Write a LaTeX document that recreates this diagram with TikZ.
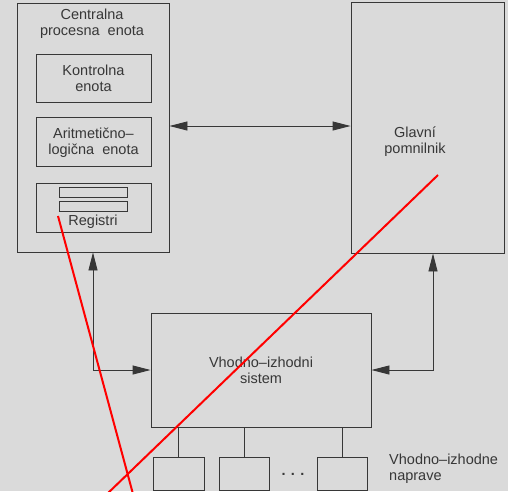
\documentclass[tikz,border=0pt]{standalone}
\usepackage{fontspec}
\setmainfont{Liberation Sans}
\usetikzlibrary{arrows.meta, positioning}
\definecolor{paper}{RGB}{218,218,218}
\definecolor{ink}{RGB}{55,55,55}

\begin{document}
\begin{tikzpicture}[x=1pt, y=-1pt,
        font=\fontsize{14.5}{16}\selectfont,
        box/.style={rectangle, draw=ink, line width=0.9pt, inner sep=0pt, align=center, text=ink},
        label/.style={align=center, text=ink, inner sep=0pt},
        arrow/.style={draw=ink, line width=0.9pt, {Triangle[length=18pt, width=9pt]}-{Triangle[length=18pt, width=9pt]}},
        cross/.style={draw=red, line width=2pt}
    ]
        \fill [paper] (0,0) rectangle (508,491);
        \useasboundingbox (0,0) rectangle (508,491);

        % processor
        \node [box, minimum width=152pt, minimum height=249pt] (cpu) at (93,127.5) {};
        \node [label] (cpuname) at (92,24) {Centralna\\procesna\ \ enota};
        \node [box, minimum width=115pt, minimum height=48pt] (ctrl) at (93.5,78) {Kontrolna\\enota};
        \node [box, minimum width=115pt, minimum height=49pt, below=15pt of ctrl] (alu) {Aritmetično–\\logična\ \ enota};
        \node [box, minimum width=115pt, minimum height=49pt, below=16pt of alu] (reg) {};
        \node [box, minimum width=68pt, minimum height=10pt] (bar1) at (93,192) {};
        \node [box, minimum width=68pt, minimum height=10pt, below=4pt of bar1] (bar2) {};
        \node [label] (regname) at (93,222) {Registri};

        % memory
        \node [box, minimum width=153pt, minimum height=251pt] (mem) at (427.5,127.5) {};
        \node [label] (memname) at (415,142) {Glavní\\pomnilnik};

        % input/output
        \node [box, minimum width=220pt, minimum height=114pt] (io) at (261,370) {Vhodno–izhodni\\sistem};
        \node [box, minimum width=51pt, minimum height=33pt] (dev1) at (178.5,473.5) {};
        \node [box, minimum width=50pt, minimum height=33pt, right=15pt of dev1] (dev2) {};
        \node [box, minimum width=50pt, minimum height=33pt, right=47pt of dev2] (dev3) {};
        \node [label] (dots) at (293,474) {\textbf{. . .}};
        \node [label, align=left, anchor=west] (devname) at (389,469) {Vhodno–izhodne\\naprave};

        \path [arrow] (cpu.east |- 0,126) -- (mem.west |- 0,126);
        \path [arrow] (cpu.south) |- (io.west);
        \path [arrow] ([xshift=5.5pt]mem.south) |- (io.east);
        \draw [ink, line width=0.9pt] (dev1.north) -- (dev1.north |- io.south);
        \draw [ink, line width=0.9pt] (dev2.north) -- (dev2.north |- io.south);
        \draw [ink, line width=0.9pt] (dev3.north) -- (dev3.north |- io.south);

        % crossed out
        \draw [cross] (58,216) -- (133,494);
        \draw [cross] (438,175) -- (107,494);
    \end{tikzpicture}
\end{document}
